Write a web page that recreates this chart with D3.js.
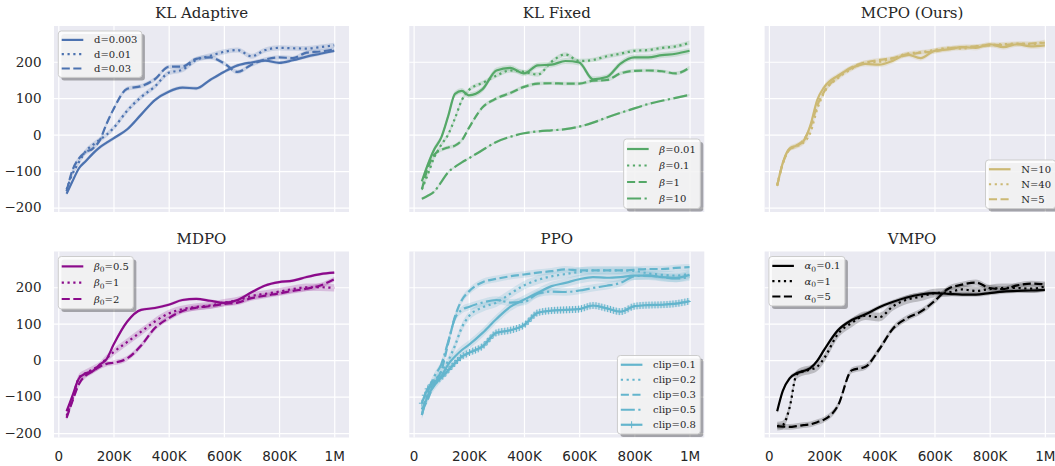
<!DOCTYPE html>
<html>
<head>
<meta charset="utf-8">
<script src="https://cdn.jsdelivr.net/npm/d3@7"></script>
<style>
  body { margin: 0; background: #fff; }
  svg { display: block; }
</style>
</head>
<body>
<svg width="1055" height="466"></svg>
<script>
// training steps, in thousands
var steps = [30, 50, 75, 100, 125, 150, 175, 200, 250, 300, 350, 400, 450, 500, 550, 600, 650, 700, 750, 800, 850, 900, 950, 1000];

var xTicks = [0, 200, 400, 600, 800, 1000];
var xTickLabels = ["0", "200K", "400K", "600K", "800K", "1M"];
var yTicks = [-200, -100, 0, 100, 200];

// KL Adaptive
var klAdaptiveLabels = ["d=0.003", "d=0.01", "d=0.03"];
var klAdaptiveD0003 = [-162, -130, -92, -72, -52, -35, -22, -10, 15, 55, 95, 118, 129, 127, 150, 172, 190, 198, 203, 197, 204, 214, 222, 230];
var klAdaptiveD001 = [-150, -110, -75, -45, -28, -14, 0, 18, 66, 103, 132, 170, 178, 205, 216, 227, 232, 215, 232, 238, 237, 236, 240, 245];
var klAdaptiveD003 = [-155, -100, -65, -48, -38, -16, 30, 70, 126, 133, 152, 186, 187, 208, 212, 196, 172, 192, 206, 212, 210, 225, 228, 234];
var klAdaptiveSpread = [5, 7, 6];

// KL Fixed
var klFixedLabels = ["β=0.01", "β=0.1", "β=1", "β=10"];
var klFixedB001 = [-128, -85, -40, -8, 50, 112, 120, 108, 125, 176, 183, 168, 190, 192, 202, 198, 152, 158, 195, 212, 212, 218, 222, 230];
var klFixedB01 = [-150, -112, -62, -28, 0, 45, 95, 122, 142, 162, 176, 172, 165, 200, 220, 202, 205, 215, 222, 230, 232, 238, 242, 252];
var klFixedB1 = [-150, -95, -55, -42, -35, -30, -15, 18, 75, 99, 114, 131, 140, 141, 140, 140, 148, 150, 168, 175, 176, 174, 168, 184];
var klFixedB10 = [-176, -168, -156, -130, -103, -88, -76, -65, -42, -20, -6, 4, 9, 12, 15, 22, 33, 47, 60, 72, 84, 93, 101, 109];
var klFixedSpread = [8, 6, 5, 3];

// MCPO
var mcpoLabels = ["N=10", "N=40", "N=5"];
var mcpoN10 = [-140, -78, -38, -30, -18, 25, 95, 130, 162, 183, 194, 192, 203, 220, 210, 230, 234, 240, 238, 248, 240, 248, 242, 245];
var mcpoN40 = [-138, -80, -40, -32, -22, 5, 70, 115, 155, 180, 198, 200, 210, 222, 226, 232, 238, 236, 242, 246, 248, 250, 248, 255];
var mcpoN5 = [-140, -80, -40, -30, -15, 20, 80, 118, 158, 185, 198, 205, 210, 218, 225, 228, 236, 240, 242, 245, 246, 248, 250, 252];
var mcpoSpread = [7, 6, 6];

// MDPO
var mdpoLabels = ["β₀=0.5", "β₀=1", "β₀=2"];
var mdpoB05 = [-140, -100, -50, -36, -30, -12, 3, 42, 106, 138, 143, 152, 165, 168, 163, 157, 165, 186, 205, 214, 218, 228, 236, 240];
var mdpoB1 = [-152, -110, -48, -35, -25, -14, 5, 22, 50, 78, 106, 128, 140, 146, 150, 158, 164, 176, 182, 188, 195, 200, 200, 198];
var mdpoB2 = [-158, -115, -65, -42, -30, -18, -10, -7, 5, 40, 88, 115, 135, 144, 148, 154, 158, 170, 177, 183, 190, 196, 205, 222];
var mdpoSpread = [4, 10, 7];

// PPO
var ppoLabels = ["clip=0.1", "clip=0.2", "clip=0.3", "clip=0.5", "clip=0.8"];
var ppoClip01 = [-150, -100, -70, -45, -12, 10, 28, 42, 75, 113, 146, 166, 185, 203, 212, 222, 228, 226, 228, 232, 232, 228, 226, 234];
var ppoClip02 = [-135, -100, -60, -32, -2, 40, 90, 120, 145, 158, 182, 205, 220, 230, 236, 242, 246, 246, 246, 245, 238, 234, 232, 237];
var ppoClip03 = [-135, -110, -62, -30, 45, 120, 165, 188, 214, 223, 230, 235, 240, 244, 249, 246, 246, 246, 246, 248, 250, 250, 253, 255];
var ppoClip05 = [-150, -90, -45, -12, 50, 115, 138, 146, 158, 165, 158, 160, 182, 188, 187, 191, 198, 204, 212, 230, 232, 228, 224, 228];
var ppoClip08 = [-118, -80, -60, -48, -28, -8, 10, 20, 38, 75, 82, 96, 130, 136, 138, 140, 150, 142, 133, 148, 151, 152, 155, 162];
var ppoSpread = [12, 12, 9, 10, 9];

// VMPO
var vmpoLabels = ["α₀=0.1", "α₀=1", "α₀=5"];
var vmpoA01 = [-140, -85, -50, -36, -30, -22, -2, 28, 82, 110, 126, 145, 160, 172, 180, 184, 182, 180, 180, 184, 188, 190, 191, 193];
var vmpoA1 = [-181, -178, -130, -40, -30, -26, -18, 5, 72, 102, 122, 118, 148, 166, 174, 184, 186, 194, 190, 195, 198, 198, 196, 202];
var vmpoA5 = [-181, -182, -183, -181, -178, -176, -170, -163, -125, -28, -18, 30, 87, 115, 133, 162, 196, 207, 213, 198, 195, 205, 210, 208];
var vmpoSpread = [6, 12, 8];

var panels = [
  { title: "KL Adaptive", color: "#4C72B0", labels: klAdaptiveLabels, series: [klAdaptiveD0003, klAdaptiveD001, klAdaptiveD003], spread: klAdaptiveSpread, styles: ["solid", "dotted", "dashed"], legend: "ul", rowH: 14.3, col: 0, row: 0 },
  { title: "KL Fixed", color: "#55A868", labels: klFixedLabels, series: [klFixedB001, klFixedB01, klFixedB1, klFixedB10], spread: klFixedSpread, styles: ["solid", "dotted", "dashed", "dashdot"], legend: "lr", rowH: 16.5, col: 1, row: 0 },
  { title: "MCPO (Ours)", color: "#CCB974", labels: mcpoLabels, series: [mcpoN10, mcpoN40, mcpoN5], spread: mcpoSpread, styles: ["solid", "dotted", "dashed"], legend: "lr", rowH: 15, col: 2, row: 0 },
  { title: "MDPO", color: "#8B0A8B", labels: mdpoLabels, series: [mdpoB05, mdpoB1, mdpoB2], spread: mdpoSpread, styles: ["solid", "dotted", "dashed"], legend: "ul", rowH: 16.3, col: 0, row: 1 },
  { title: "PPO", color: "#64B5CD", labels: ppoLabels, series: [ppoClip01, ppoClip02, ppoClip03, ppoClip05, ppoClip08], spread: ppoSpread, styles: ["solid", "dotted", "dashed", "dashdot", "plus"], legend: "lr", rowH: 15, col: 1, row: 1 },
  { title: "VMPO", color: "#000000", labels: vmpoLabels, series: [vmpoA01, vmpoA1, vmpoA5], spread: vmpoSpread, styles: ["solid", "dotted", "dashed"], legend: "ul", rowH: 15.3, col: 2, row: 1 }
];

var svg = d3.select("svg");
var lefts = [54, 409.3, 764.6],
    tops = [26, 251.5],
    w = 295,
    h = 186,
    lw = 2.2;

var dashes = {
  solid: null,
  dotted: "2.2,3.6",
  dashed: "8.1,3.5",
  dashdot: "14,3.5,2.2,3.5",
  plus: null
};

var x = d3.scaleLinear().domain([-15.6, 1053.5]).range([0, w]),
    y = d3.scaleLinear().domain([-212, 298]).range([h, 0]);

var line = d3.line()
    .curve(d3.curveMonotoneX)
    .x(function(d, i) { return x(steps[i]); })
    .y(function(d) { return y(d); });

function bandArea(s) {
  return d3.area()
    .curve(d3.curveMonotoneX)
    .x(function(d, i) { return x(steps[i]); })
    .y0(function(d) { return y(d - s); })
    .y1(function(d) { return y(d + s); });
}

function plusPath(px, py) {
  return "M" + (px - 3) + "," + py + "h6M" + px + "," + (py - 3.5) + "v7";
}

function writeLabel(text, label) {
  var m = label.match(/^([α-ω])(₀?)(.*)$/);
  if (!m) { text.text(label); return; }
  text.append("tspan").attr("font-style", "italic").text(m[1]);
  if (m[2]) {
    text.append("tspan").attr("font-size", 7.5).attr("dy", 2.5).text("0");
    text.append("tspan").attr("dy", -2.5).text(m[3]);
  } else {
    text.append("tspan").text(m[3]);
  }
}

panels.forEach(function(p) {
  var g = svg.append("g")
      .attr("transform", "translate(" + lefts[p.col] + "," + tops[p.row] + ")");

  g.append("rect")
      .attr("width", w)
      .attr("height", h)
      .attr("fill", "#EAEAF2");

  // grid
  g.append("g")
      .attr("transform", "translate(0," + h + ")")
      .call(d3.axisBottom(x).tickValues(xTicks).tickSize(-h).tickFormat(""))
      .call(function(a) { a.select(".domain").remove(); a.selectAll("line").attr("stroke", "#fff").attr("stroke-width", 1.2); });
  g.append("g")
      .call(d3.axisLeft(y).tickValues(yTicks).tickSize(-w).tickFormat(""))
      .call(function(a) { a.select(".domain").remove(); a.selectAll("line").attr("stroke", "#fff").attr("stroke-width", 1.2); });

  // tick labels
  if (p.row == 1) {
    g.append("g")
      .attr("transform", "translate(0," + h + ")")
      .call(d3.axisBottom(x).tickValues(xTicks).tickSize(0).tickPadding(14)
        .tickFormat(function(d, i) { return xTickLabels[i]; }))
      .call(function(a) {
        a.select(".domain").remove();
        a.selectAll("text").attr("font-family", "DejaVu Sans").attr("font-size", 13.5).attr("fill", "#262626");
      });
  }
  if (p.col == 0) {
    g.append("g")
      .call(d3.axisLeft(y).tickValues(yTicks).tickSize(0).tickPadding(12.5)
        .tickFormat(function(d) { return d < 0 ? "\u2212" + Math.abs(d) : d; }))
      .call(function(a) {
        a.select(".domain").remove();
        a.selectAll("text").attr("font-family", "DejaVu Serif").attr("font-size", 13.5).attr("fill", "#262626");
      });
  }

  g.append("text")
      .attr("x", w / 2)
      .attr("y", -8)
      .attr("text-anchor", "middle")
      .attr("font-family", "DejaVu Serif")
      .attr("font-size", 15)
      .attr("fill", "#262626")
      .text(p.title);

  // bands then lines
  p.series.forEach(function(vals, k) {
    g.append("path")
        .datum(vals)
        .attr("d", bandArea(p.spread[k]))
        .attr("fill", p.color)
        .attr("fill-opacity", 0.2);
  });
  p.series.forEach(function(vals, k) {
    var path = g.append("path")
        .datum(vals)
        .attr("d", line)
        .attr("fill", "none")
        .attr("stroke", p.color)
        .attr("stroke-width", lw)
        .attr("stroke-dasharray", dashes[p.styles[k]]);
    if (p.styles[k] == "plus") {
      var node = path.node(), len = node.getTotalLength(), nextX = -1e9, d = "";
      for (var l = 0; l <= len; l += 0.5) {
        var pt = node.getPointAtLength(l);
        if (pt.x >= nextX) {
          d += plusPath(pt.x, pt.y);
          nextX = pt.x + 2.75;
        }
      }
      g.append("path").attr("d", d).attr("fill", "none").attr("stroke", p.color).attr("stroke-width", 1);
    }
  });

  // legend
  var n = p.labels.length,
      lg = g.append("g").attr("font-family", "DejaVu Serif").attr("font-size", 10).attr("fill", "#262626");
  var texts = [];
  p.labels.forEach(function(lab, k) {
    var t = lg.append("text").attr("dy", "0.35em");
    writeLabel(t, lab);
    texts.push(t);
  });
  var tw = d3.max(texts, function(t) { return t.node().getComputedTextLength(); });
  var bw = 3.4 + 21.6 + 10.7 + tw + 4.5,
      bh = n * p.rowH + 3.5;
  var bx = p.legend == "ul" ? 4.3 : w - 4 - bw,
      by = p.legend == "ul" ? 5 : h - 3.5 - bh;
  lg.insert("rect", ":first-child")
      .attr("x", bx).attr("y", by).attr("width", bw).attr("height", bh).attr("rx", 3)
      .attr("fill", "#fff").attr("fill-opacity", 0.85).attr("stroke", "#cccccc").attr("stroke-width", 1);
  lg.insert("rect", ":first-child")
      .attr("x", bx + 3).attr("y", by + 3).attr("width", bw).attr("height", bh).attr("rx", 3)
      .attr("fill", "#000").attr("fill-opacity", 0.3);
  texts.forEach(function(t, k) {
    var cy = by + 1.75 + p.rowH * (k + 0.5);
    t.attr("x", bx + 3.4 + 21.6 + 10.7).attr("y", cy);
    lg.append("line")
        .attr("x1", bx + 3.4).attr("x2", bx + 25).attr("y1", cy).attr("y2", cy)
        .attr("stroke", p.color).attr("stroke-width", lw)
        .attr("stroke-dasharray", dashes[p.styles[k]]);
    if (p.styles[k] == "plus") {
      lg.append("path").attr("d", plusPath(bx + 14.2, cy))
          .attr("stroke", p.color).attr("stroke-width", 1);
    }
  });
});
</script>
</body>
</html>
